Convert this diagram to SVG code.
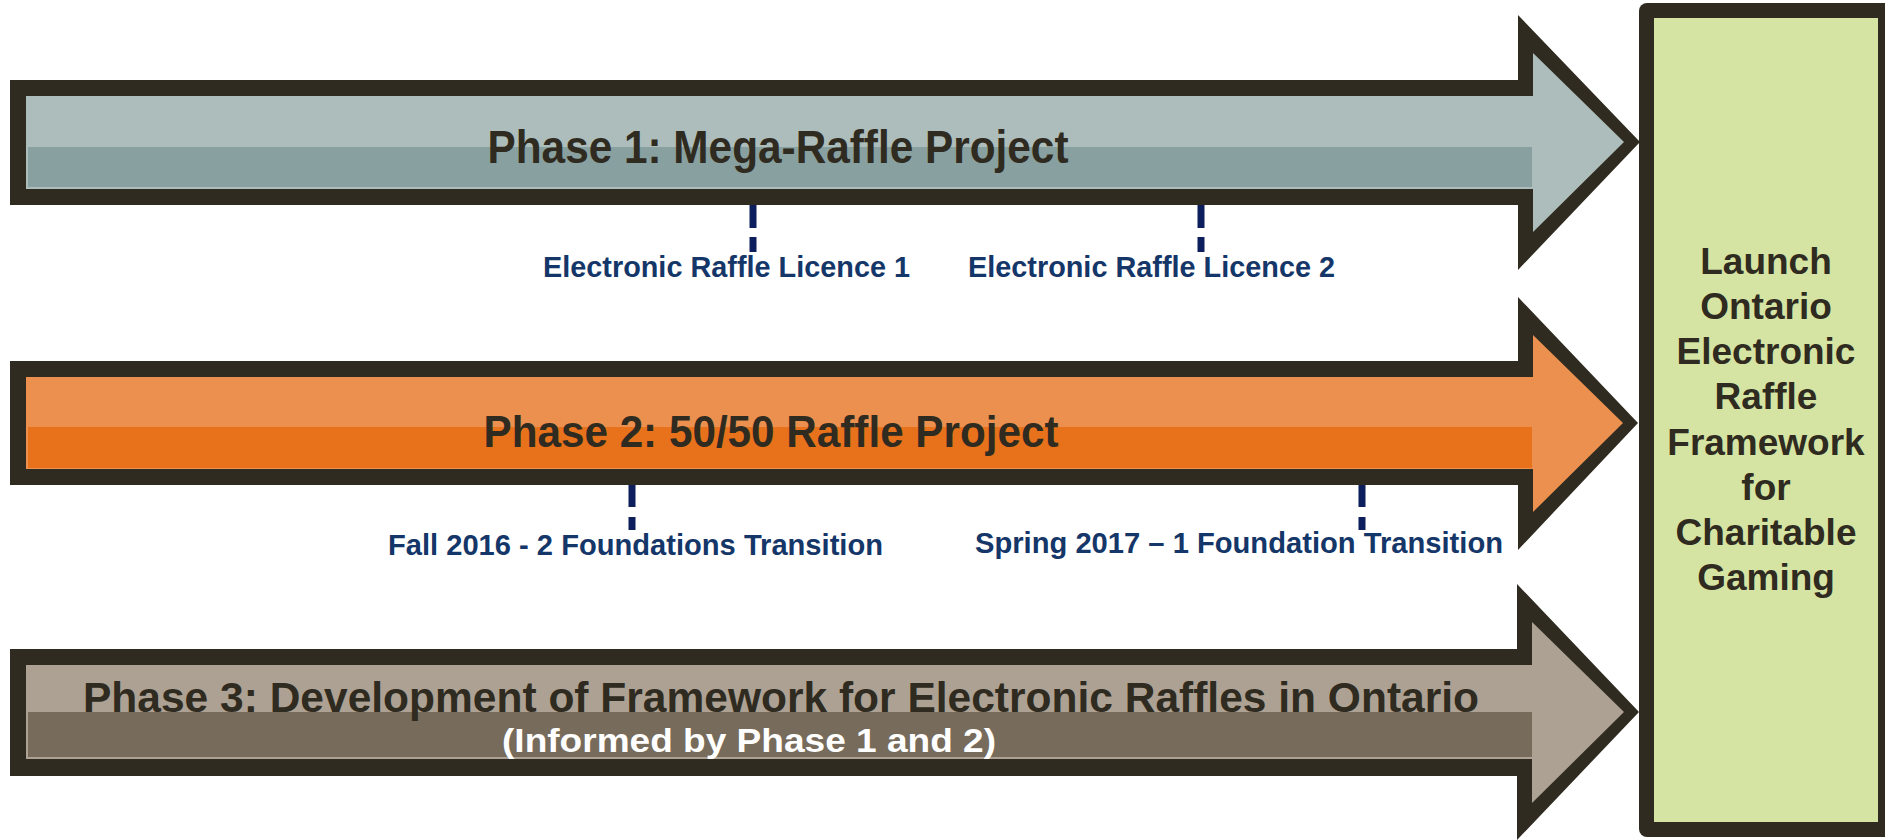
<svg xmlns="http://www.w3.org/2000/svg" width="1885" height="840" viewBox="0 0 1885 840">
<style>
.border{fill:#2f2b20}
.title{font-family:"Liberation Sans",Arial,sans-serif;font-weight:bold;fill:#2f2b20;text-anchor:middle}
.lbl{font-family:"Liberation Sans",Arial,sans-serif;font-weight:bold;fill:#143668;font-size:30px}
.tick{stroke:#0c1f5c;stroke-width:7;fill:none}
.goal{font-family:"Liberation Sans",Arial,sans-serif;font-weight:bold;fill:#2f2b20;font-size:37px;text-anchor:middle}
</style>
<rect width="1885" height="840" fill="#ffffff"/>

<g id="phase1">
<polygon class="border" points="10,80 1518,80 1518,15 1640,142 1518,270 1518,205 10,205"/>
<polygon fill="#adbdbc" points="26,96 1533,96 1533,53 1624,142 1533,232 1533,189 26,189"/>
<rect x="28" y="147" width="1504" height="40" fill="#88a09f"/>
<text class="title" x="778" y="163" font-size="46" textLength="581" lengthAdjust="spacingAndGlyphs">Phase 1: Mega-Raffle Project</text>
</g>

<g id="phase2">
<polygon class="border" points="10,361 1518,361 1518,297 1638,423 1518,550 1518,485 10,485"/>
<polygon fill="#ec904f" points="26,377 1533,377 1533,335 1623,423 1533,512 1533,469 26,469"/>
<rect x="28" y="427" width="1504" height="41" fill="#e8721c"/>
<text class="title" x="771" y="447" font-size="45" textLength="575" lengthAdjust="spacingAndGlyphs">Phase 2: 50/50 Raffle Project</text>
</g>

<g id="phase3">
<polygon class="border" points="10,649 1517,649 1517,584 1639,712 1517,840 1517,776 10,776"/>
<polygon fill="#ada193" points="26,665 1532,665 1532,622 1624,712 1532,803 1532,759 26,759"/>
<rect x="28" y="712" width="1504" height="45" fill="#776b5b"/>
<text class="title" x="781" y="712" font-size="42" textLength="1396" lengthAdjust="spacingAndGlyphs">Phase 3: Development of Framework for Electronic Raffles in Ontario</text>
<text x="749" y="752" font-family="Liberation Sans, Arial, sans-serif" font-weight="bold" font-size="34" fill="#ffffff" text-anchor="middle" textLength="494" lengthAdjust="spacingAndGlyphs">(Informed by Phase 1 and 2)</text>
</g>

<g id="goal">
<rect x="1639" y="3" width="260" height="834" rx="8" class="border"/>
<rect x="1654" y="18" width="224" height="804" fill="#d5e4a2"/>
<text class="goal" x="1766" y="274">Launch</text>
<text class="goal" x="1766" y="319">Ontario</text>
<text class="goal" x="1766" y="364">Electronic</text>
<text class="goal" x="1766" y="409">Raffle</text>
<text class="goal" x="1766" y="455">Framework</text>
<text class="goal" x="1766" y="500">for</text>
<text class="goal" x="1766" y="545">Charitable</text>
<text class="goal" x="1766" y="590">Gaming</text>
</g>

<g id="milestone-licence1">
<text class="lbl" x="543" y="277" textLength="367" lengthAdjust="spacingAndGlyphs">Electronic Raffle Licence 1</text>
</g>
<g id="milestone-licence2">
<text class="lbl" x="968" y="277" textLength="367" lengthAdjust="spacingAndGlyphs">Electronic Raffle Licence 2</text>
</g>
<g id="milestone-fall2016">
<text class="lbl" x="388" y="555" textLength="495" lengthAdjust="spacingAndGlyphs">Fall 2016 - 2 Foundations Transition</text>
</g>
<g id="milestone-spring2017">
<text class="lbl" x="975" y="553" textLength="528" lengthAdjust="spacingAndGlyphs">Spring 2017 – 1 Foundation Transition</text>
</g>

<g id="connectors">
<path class="tick" d="M753,205V228M753,237V252"/>
<path class="tick" d="M1201,205V228M1201,237V252"/>
<path class="tick" d="M632,485V507M632,517V530"/>
<path class="tick" d="M1362,485V507M1362,517V530"/>
</g>
</svg>
